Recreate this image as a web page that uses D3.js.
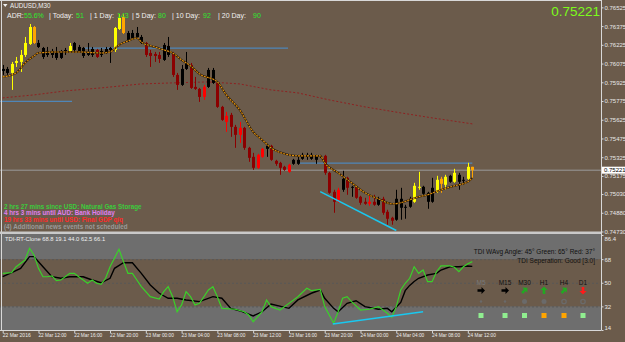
<!DOCTYPE html>
<html>
<head>
<meta charset="utf-8">
<script src="https://d3js.org/d3.v7.min.js"></script>
<style>
  body { margin: 0; background: #6b5b4b; overflow: hidden; }
  svg { display: block; }
  text { font-family: "Liberation Sans", Arial, sans-serif; }
</style>
</head>
<body>
<svg width="625" height="342"></svg>
<script>
// AUDUSD M30, first bar 22 Mar 08:00, last 24 Mar 12:30
var open  = [0.76016,0.76000,0.76000,0.76080,0.76088,0.76144,0.76232,0.76368,0.76208,0.76128,0.76144,0.76144,0.76120,0.76120,0.76160,0.76176,0.76184,0.76176,0.76136,0.76144,0.76144,0.76184,0.76144,0.76160,0.76184,0.76184,0.76352,0.76448,0.76264,0.76280,0.76288,0.76240,0.76240,0.76160,0.76152,0.76144,0.76104,0.76144,0.76152,0.75984,0.75904,0.76032,0.76064,0.75888,0.75872,0.75888,0.75888,0.75920,0.75920,0.75728,0.75656,0.75664,0.75568,0.75560,0.75560,0.75400,0.75328,0.75344,0.75392,0.75392,0.75416,0.75296,0.75280,0.75248,0.75264,0.75272,0.75272,0.75312,0.75328,0.75312,0.75304,0.75328,0.75336,0.75200,0.75048,0.75064,0.75064,0.75160,0.75080,0.75088,0.75008,0.74968,0.74968,0.74968,0.74944,0.74992,0.74888,0.74840,0.74824,0.74920,0.74920,0.74928,0.74968,0.75080,0.75032,0.74968,0.74968,0.75048,0.75152,0.75104,0.75128,0.75128,0.75128,0.75136,0.75152,0.75248];
var high  = [0.76064,0.76048,0.76088,0.76128,0.76184,0.76288,0.76392,0.76376,0.76264,0.76208,0.76208,0.76192,0.76208,0.76184,0.76200,0.76240,0.76248,0.76224,0.76208,0.76240,0.76208,0.76192,0.76200,0.76208,0.76208,0.76368,0.76472,0.76472,0.76336,0.76344,0.76368,0.76304,0.76248,0.76184,0.76168,0.76168,0.76240,0.76288,0.76168,0.76000,0.76064,0.76168,0.76080,0.75968,0.75880,0.75904,0.76040,0.76040,0.75928,0.75736,0.75688,0.75680,0.75584,0.75608,0.75568,0.75408,0.75360,0.75352,0.75400,0.75424,0.75424,0.75304,0.75288,0.75256,0.75272,0.75312,0.75344,0.75360,0.75360,0.75360,0.75344,0.75344,0.75344,0.75208,0.75064,0.75080,0.75216,0.75168,0.75096,0.75096,0.75016,0.75000,0.75016,0.75024,0.75008,0.75008,0.74904,0.74848,0.75064,0.75080,0.74944,0.75008,0.75120,0.75208,0.75096,0.75048,0.75160,0.75176,0.75168,0.75184,0.75184,0.75232,0.75200,0.75168,0.75280,0.75248];
var low   = [0.75984,0.75984,0.75864,0.76048,0.76008,0.76128,0.76224,0.76232,0.76200,0.76112,0.76128,0.76120,0.76104,0.76112,0.76144,0.76168,0.76168,0.76160,0.76120,0.76136,0.76128,0.76120,0.76128,0.76152,0.76080,0.76168,0.76344,0.76312,0.76248,0.76264,0.76280,0.76232,0.76128,0.76048,0.76088,0.76080,0.76096,0.76128,0.75968,0.75864,0.75896,0.76024,0.75872,0.75864,0.75768,0.75784,0.75880,0.75912,0.75720,0.75616,0.75528,0.75488,0.75400,0.75440,0.75384,0.75288,0.75224,0.75232,0.75320,0.75328,0.75296,0.75256,0.75184,0.75216,0.75200,0.75264,0.75264,0.75304,0.75304,0.75304,0.75272,0.75320,0.75184,0.75032,0.74880,0.74960,0.75048,0.75024,0.75008,0.74992,0.74944,0.74944,0.74936,0.74936,0.74936,0.74864,0.74784,0.74784,0.74816,0.74824,0.74832,0.74920,0.74960,0.75064,0.75024,0.74912,0.74960,0.75040,0.75040,0.75064,0.75120,0.75120,0.75064,0.75104,0.75144,0.75160];
var close = [0.76032,0.76032,0.76072,0.76096,0.76144,0.76240,0.76368,0.76240,0.76240,0.76200,0.76176,0.76176,0.76168,0.76168,0.76184,0.76216,0.76240,0.76208,0.76200,0.76168,0.76192,0.76128,0.76176,0.76192,0.76200,0.76360,0.76440,0.76320,0.76320,0.76320,0.76320,0.76288,0.76144,0.76136,0.76136,0.76112,0.76224,0.76216,0.75984,0.75904,0.76032,0.76080,0.75880,0.75872,0.75808,0.75808,0.76024,0.76024,0.75728,0.75624,0.75608,0.75568,0.75504,0.75504,0.75400,0.75320,0.75240,0.75240,0.75328,0.75416,0.75304,0.75272,0.75240,0.75224,0.75208,0.75304,0.75304,0.75344,0.75344,0.75344,0.75336,0.75336,0.75200,0.75040,0.74968,0.74968,0.75152,0.75080,0.75088,0.75000,0.74960,0.74952,0.74952,0.74944,0.74992,0.74880,0.74832,0.74816,0.74992,0.74992,0.74928,0.74992,0.75096,0.75088,0.75088,0.75040,0.75080,0.75144,0.75112,0.75168,0.75176,0.75200,0.75184,0.75144,0.75248,0.75221];
// candle state: Y bull, O bull-weak, K neutral, D bear, R bear-strong
var state = "KKYYYYYOKKKKKKKYKKKKKDKKKYYOKKKKDDDDKKDDKKDDDRKKDDRDDRDDDRRKDDDDRKKKKKKKDDDRKDKDDDRDKDDDKKKKYYKKKYOYKYKKYO".split("");

var fastMA = [[0,0.75968],[3,0.76000],[5,0.76080],[7,0.76136],[8,0.76160],[13,0.76168],[17,0.76168],[22,0.76160],[24,0.76168],[26,0.76224],[28,0.76256],[30,0.76280],[31,0.76248],[34,0.76208],[36,0.76184],[38,0.76160],[40,0.76104],[42,0.76056],[44,0.75992],[48,0.75928],[50,0.75824],[53,0.75704],[56,0.75528],[58,0.75464],[60,0.75400],[64,0.75344],[66,0.75336],[71,0.75336],[72,0.75280],[75,0.75200],[78,0.75120],[81,0.75040],[84,0.74992],[87,0.74952],[89,0.74960],[91,0.74984],[93,0.75008],[95,0.75024],[98,0.75064],[101,0.75096],[104,0.75128],[105,0.75160]];
var slowMA = [[0,0.75800],[7,0.75824],[14,0.75856],[22,0.75880],[31,0.75912],[38,0.75920],[46,0.75928],[53,0.75912],[60,0.75864],[66,0.75840],[73,0.75784],[81,0.75728],[89,0.75680],[96,0.75640],[105,0.75592]];

// horizontal levels [fromBar, toBar, price]
var levels = [[-0.6,15.5,0.75772],[18.4,63.8,0.76198],[66,105,0.75278]];
var trendPrice = [[71,0.75050],[88,0.74738]];
var bid = 0.75221;

var priceTicks = [0.76525,0.76375,0.76225,0.76075,0.75925,0.75775,0.75625,0.75475,0.75325,0.75175,0.75030,0.74880,0.74730];

var timeBars = [0,8,16,24,32,40,48,56,64,72,80,88,96,104];
var timeLabels = ["22 Mar 2016","22 Mar 12:00","22 Mar 16:00","22 Mar 20:00","23 Mar 00:00","23 Mar 04:00","23 Mar 08:00","23 Mar 12:00","23 Mar 16:00","23 Mar 20:00","24 Mar 00:00","24 Mar 04:00","24 Mar 08:00","24 Mar 12:00"];

// TDI
var tdiGreen = [[0,57.2],[2,57.7],[3,62.2],[5,67.3],[6,76.3],[7,71.2],[8,61.0],[9,54.6],[10,54.6],[11,55.2],[12,51.6],[13,52.1],[15,57.2],[16,57.2],[17,54.6],[19,49.6],[20,52.1],[21,49.6],[22,48.8],[23,53.4],[24,62.2],[26,75.5],[27,66.1],[28,57.2],[29,57.2],[30,52.1],[31,47.0],[33,39.4],[35,37.6],[36,43.2],[37,47.0],[38,39.4],[39,27.9],[40,33.1],[41,43.2],[42,39.4],[43,33.1],[44,34.3],[46,44.5],[47,47.0],[48,39.4],[49,30.5],[52,29.8],[54,27.9],[55,25.4],[56,20.3],[58,27.9],[59,36.9],[60,31.8],[62,29.2],[64,34.3],[66,39.4],[68,45.8],[69,44.0],[71,45.0],[72,31.8],[74,19.1],[75,27.9],[76,38.2],[77,39.4],[78,35.6],[80,29.2],[82,29.8],[84,31.8],[86,26.7],[87,23.7],[88,31.8],[89,44.5],[90,49.6],[91,53.4],[92,62.2],[93,57.2],[94,59.7],[95,50.8],[96,50.8],[97,58.4],[98,62.8],[99,62.8],[100,62.8],[101,61.8],[102,58.4],[103,62.2],[104,64.5],[105,66.1]];
var tdiSignal = [[0,54.6],[2,57.7],[4,61.0],[6,69.9],[7,69.9],[9,62.2],[11,54.6],[13,53.4],[15,54.6],[18,54.6],[20,52.1],[22,50.0],[24,53.4],[25,61.0],[27,65.3],[29,65.3],[31,57.2],[33,48.3],[35,42.0],[37,38.2],[39,38.2],[41,36.9],[44,35.6],[47,39.4],[49,38.2],[51,30.5],[53,28.7],[56,24.7],[58,27.9],[60,33.8],[64,30.5],[66,36.9],[69,42.0],[71,44.5],[72,38.2],[74,30.5],[75,27.9],[77,34.3],[79,36.3],[81,31.8],[84,29.8],[86,30.5],[87,27.9],[89,35.0],[90,44.0],[91,48.0],[92,51.0],[93,53.4],[95,55.9],[97,57.2],[98,59.7],[100,62.2],[102,62.2],[104,62.8],[105,62.5]];
var trendTdi = [[73.8,18.6],[94,27.9]];
var tdiTicks = [86.4,68,50,32,14];
var tdiLevels = [68,50,32];

var adrLabels = ["ADR:","| Today:","| 1 Day:","| 5 Day:","| 10 Day:","|  20 Day:"];
var adrValues = ["55.6%","51","143","80","92","90"];
var news = ["2 hrs 27 mins since USD: Natural Gas Storage","4 hrs 3 mins until AUD: Bank Holiday","19 hrs 33 mins until USD: Final GDP q/q","(4) Additional news events not scheduled"];
var newsKind = ["past","soon","later","none"];

var tfNames = ["M5","M15","M30","H1","H4","D1"];
var tfTrend = [0,0,1,2,1,-2];        // 0 flat, 1 up-angle, 2 up, -2 down
var tfDot = ["small","small","full","full","ring","ring"];
var tfBox = ["ok","ok","ok","warn","warn","ok"];

var svg = d3.select("svg");

var x = d3.scaleLinear().domain([0,105]).range([2.7,472.3]);
var y = d3.scaleLinear().domain([0.74730,0.76584]).range([231.5,0]);
var yt = d3.scaleLinear().domain([14,86.4]).range([330,235]);

var axisCol = "#d8d8d8";

// TDI zones
var tdi = svg.append("g");
tdi.append("rect").attr("x",0).attr("width",601).attr("y",234).attr("height",yt(68)-234).attr("fill","#6e6e6e");
tdi.append("rect").attr("x",0).attr("width",601).attr("y",yt(32)).attr("height",330-yt(32)).attr("fill","#6e6e6e");
tdi.selectAll(".lvl").data(tdiLevels).enter().append("line")
  .attr("x1",0).attr("x2",601).attr("y1",d=>yt(d)+0.5).attr("y2",d=>yt(d)+0.5)
  .attr("stroke","#585858").attr("stroke-dasharray","2,2");

// price panel
var main = svg.append("g");
main.append("clipPath").attr("id","mc").append("rect").attr("x",0).attr("y",0).attr("width",601).attr("height",231.5);
var mg = main.append("g").attr("clip-path","url(#mc)");

mg.append("line").attr("x1",0).attr("x2",601).attr("y1",y(bid)).attr("y2",y(bid))
  .attr("stroke","#9a9a9a").attr("stroke-width",1);

mg.selectAll(".lev").data(levels).enter().append("line")
  .attr("x1",d=>x(d[0])).attr("x2",d=>x(d[1])).attr("y1",d=>y(d[2])).attr("y2",d=>y(d[2]))
  .attr("stroke","#4f86b8").attr("stroke-width",1.3);

var line = d3.line().x(d=>x(d[0])).y(d=>y(d[1]));
mg.append("path").attr("d",line(slowMA)).attr("fill","none")
  .attr("stroke","#8e2222").attr("stroke-width",1).attr("stroke-dasharray","2,2");

var colors = {Y:"#ffff00",O:"#ffa500",K:"#000000",D:"#8b0000",R:"#ff0000"};
var bars = d3.range(open.length);
mg.selectAll(".wick").data(bars).enter().append("line")
  .attr("x1",i=>Math.round(x(i))+0.5).attr("x2",i=>Math.round(x(i))+0.5)
  .attr("y1",i=>y(high[i])).attr("y2",i=>y(low[i]))
  .attr("stroke",i=>colors[state[i]]).attr("stroke-width",1);
mg.selectAll(".body").data(bars).enter().append("rect")
  .attr("x",i=>Math.round(x(i))-1).attr("width",3)
  .attr("y",i=>y(Math.max(open[i],close[i])))
  .attr("height",i=>Math.max(1,Math.abs(y(open[i])-y(close[i]))))
  .attr("fill",i=>colors[state[i]]);

var maLine = d3.line().x(d=>x(d[0])).y(d=>y(d[1])).curve(d3.curveMonotoneX);
mg.append("path").attr("d",maLine(fastMA)).attr("fill","none")
  .attr("stroke","#2a1a08").attr("stroke-width",1.8);
mg.append("path").attr("d",maLine(fastMA)).attr("fill","none")
  .attr("stroke","#e0900c").attr("stroke-width",1.1).attr("stroke-dasharray","2,1");

mg.append("path").attr("d",line(trendPrice)).attr("stroke","#19c8f0").attr("stroke-width",1.5).attr("fill","none");

// TDI lines
var tline = d3.line().x(d=>x(d[0])).y(d=>yt(d[1]));
var tg = svg.append("g");
tg.append("path").attr("d",tline(tdiSignal)).attr("fill","none").attr("stroke","#000").attr("stroke-width",1.4);
tg.append("path").attr("d",tline(tdiGreen)).attr("fill","none").attr("stroke","#3ad12a").attr("stroke-width",1.2);
tg.append("path").attr("d",tline(trendTdi)).attr("fill","none").attr("stroke","#19c8f0").attr("stroke-width",1.5);

// frame and separators
svg.append("line").attr("x1",0).attr("x2",601).attr("y1",0.5).attr("y2",0.5).attr("stroke",axisCol);
svg.append("line").attr("x1",1.5).attr("x2",1.5).attr("y1",0).attr("y2",330).attr("stroke",axisCol);
svg.append("rect").attr("x",0).attr("y",231.5).attr("width",601).attr("height",2.5).attr("fill","#c9c9c9");

// price axis
var pa = svg.append("g").attr("transform","translate(601.5,0)")
  .call(d3.axisRight(y).tickValues(priceTicks).tickFormat(d3.format(".5f")).tickSize(2).tickPadding(1));
var ta = svg.append("g").attr("transform","translate(601.5,0)")
  .call(d3.axisRight(yt).tickValues(tdiTicks).tickFormat(d=>String(d)).tickSize(2).tickPadding(1));
ta.select(".domain").remove();
pa.select(".domain").attr("d","M0,0V330");
ta.selectAll(".tick").filter(d=>d===86.4).select("text").attr("dy","0.9em");
ta.selectAll(".tick").filter(d=>d===14).select("text").attr("dy","-0.05em");
[pa,ta].forEach(function(a){
  a.selectAll("path,line").attr("stroke",axisCol);
  a.selectAll("text").attr("fill","#e8e8e8").attr("font-size",6).attr("font-family","Liberation Sans, Arial");
});

// current price box
svg.append("rect").attr("x",602).attr("y",y(bid)-3.5).attr("width",23).attr("height",7).attr("fill","#ffffff");
svg.append("text").attr("x",604).attr("y",y(bid)+2.2).attr("font-size",6).attr("fill","#000").text(d3.format(".5f")(bid));

// time axis
var xa = svg.append("g").attr("transform","translate(0,330)")
  .call(d3.axisBottom(x).tickValues(timeBars).tickFormat((d,i)=>timeLabels[i]).tickSize(3).tickPadding(1));
xa.select(".domain").attr("d","M0,0.5H601.5");
xa.selectAll("path,line").attr("stroke",axisCol);
xa.selectAll("text").attr("fill","#ececec").attr("font-size",6.2).attr("text-anchor","start")
  .attr("dx",-0.5).attr("dy","0.5em").attr("textLength",28).attr("lengthAdjust","spacingAndGlyphs");

// header texts
svg.append("path").attr("d","M3,4L7.5,4L5.25,7Z").attr("fill","#f0f0f0");
svg.append("text").attr("x",10).attr("y",8.3).attr("font-size",6.3).attr("fill","#f0f0f0").text("AUDUSD,M30");

var adrX = [[7,24],[49,76],[90,117],[132,158],[172,203],[218,253]];
adrLabels.forEach(function(l,i){
  svg.append("text").attr("x",adrX[i][0]).attr("y",17.8).attr("font-size",7).attr("fill","#f0f0f0").text(l);
  svg.append("text").attr("x",adrX[i][1]).attr("y",17.8).attr("font-size",7).attr("fill","#2ee82e").text(adrValues[i]);
});

svg.append("text").attr("x",600).attr("y",15.5).attr("text-anchor","end").attr("font-size",13.5)
  .attr("fill","#7cfc1a").text(d3.format(".5f")(bid));

var newsCol = {past:"#3ccc3c",soon:"#e07ef0",later:"#ff2a2a",none:"#9a9a9a"};
news.forEach(function(t,i){
  svg.append("text").attr("x",4).attr("y",208.5+i*6.8).attr("font-size",6.3).attr("font-weight","bold")
    .attr("fill",newsCol[newsKind[i]]).text(t);
});

svg.append("text").attr("x",5).attr("y",240.5).attr("font-size",5.8).attr("fill","#f0f0f0")
  .text("TDI-RT-Clone 68.8 19.1 44.0 62.5 66.1");
svg.append("text").attr("x",595).attr("y",254).attr("text-anchor","end").attr("font-size",6.5).attr("fill","#111")
  .text("TDI WAvg Angle: 45°  Green: 65°  Red: 37°");
svg.append("text").attr("x",595).attr("y",262.5).attr("text-anchor","end").attr("font-size",6.5).attr("fill","#111")
  .text("TDI Seperation: Good [3.0]");

// multi timeframe table
var colX = [481,505,524.5,544,564,583];
var mtf = svg.append("g");
tfNames.forEach(function(n,i){
  mtf.append("text").attr("x",colX[i]).attr("y",284.5).attr("text-anchor","middle").attr("font-size",6.5)
    .attr("fill",i===0?"#7a7a7a":"#111").text(n);
  var t = tfTrend[i];
  var ang = t===0?0:t===1?-45:t===2?-90:90;
  var col = t===0?"#000":t>0?"#22a822":"#ff1a1a";
  mtf.append("path").attr("d","M-3.5,-1.3L0.5,-1.3L0.5,-3.6L4,0L0.5,3.6L0.5,1.3L-3.5,1.3Z")
    .attr("transform","translate("+colX[i]+",290.5) rotate("+ang+")").attr("fill",col);
  var dot = tfDot[i];
  var c = mtf.append("circle").attr("cx",colX[i]).attr("cy",301.5);
  if (dot==="small") c.attr("r",1.2).attr("fill","#6a6a6a");
  else if (dot==="full") c.attr("r",2.5).attr("fill","#6a6a6a");
  else c.attr("r",2.2).attr("fill","none").attr("stroke","#6a6a6a").attr("stroke-width",1.3);
  mtf.append("rect").attr("x",colX[i]-2.5).attr("y",313).attr("width",5).attr("height",5)
    .attr("fill",tfBox[i]==="ok"?"#90ee90":"#ffa500");
});
</script>
</body>
</html>
